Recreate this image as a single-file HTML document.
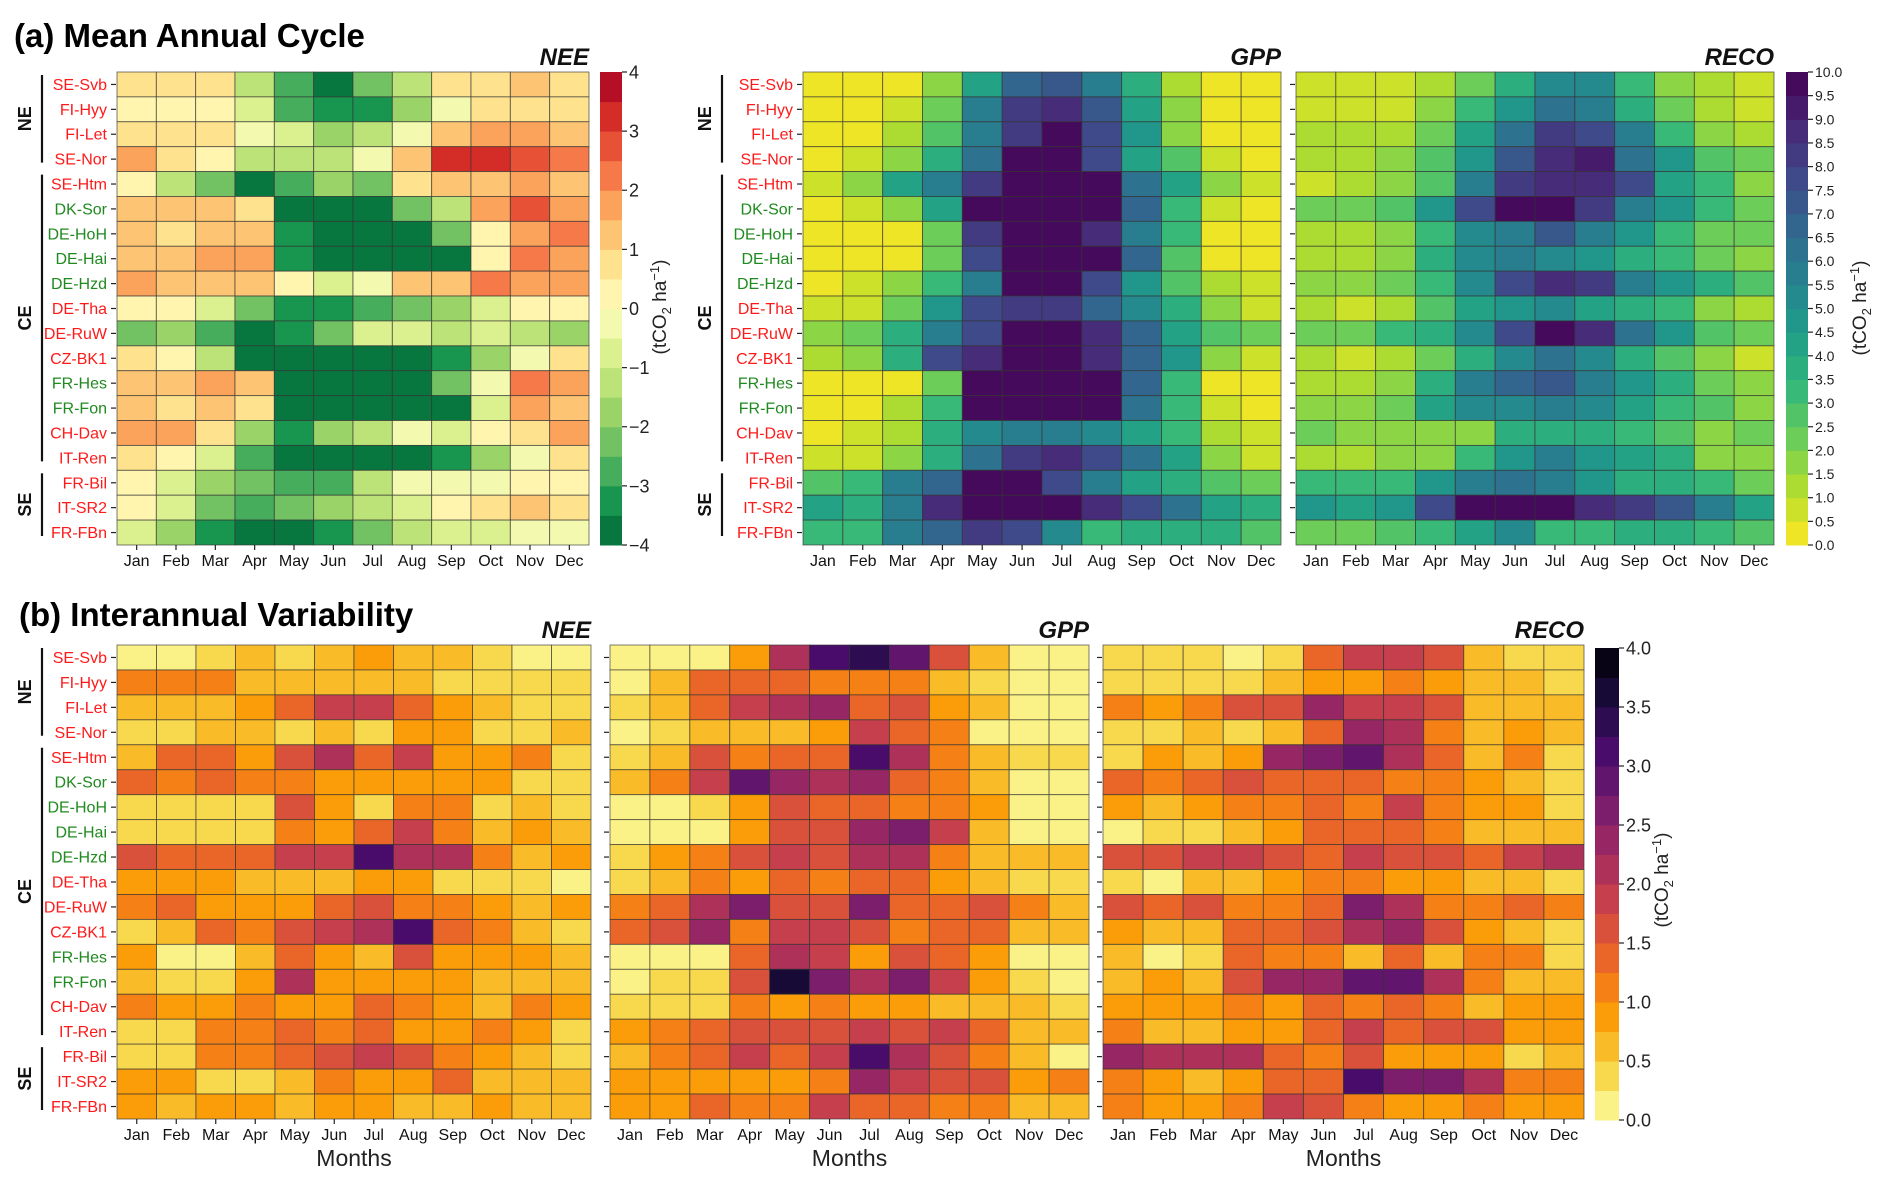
<!DOCTYPE html>
<html><head><meta charset="utf-8"><style>
html,body{margin:0;padding:0;background:#fff;}
svg{display:block;font-family:"Liberation Sans","DejaVu Sans",sans-serif;}
</style></head><body>
<svg id="fig" width="1892" height="1184" viewBox="0 0 1892 1184" xmlns="http://www.w3.org/2000/svg">
<text x="14" y="47" font-size="33" font-weight="bold">(a) Mean Annual Cycle</text>
<text x="19" y="626" font-size="33" font-weight="bold">(b) Interannual Variability</text>
</svg>
<script>
const sites=["SE-Svb","FI-Hyy","FI-Let","SE-Nor","SE-Htm","DK-Sor","DE-HoH","DE-Hai","DE-Hzd","DE-Tha","DE-RuW","CZ-BK1","FR-Hes","FR-Fon","CH-Dav","IT-Ren","FR-Bil","IT-SR2","FR-FBn"];
const siteColors=["r","r","r","r","r","g","g","g","g","r","r","r","g","g","r","r","r","r","r"];
const months=["Jan","Feb","Mar","Apr","May","Jun","Jul","Aug","Sep","Oct","Nov","Dec"];
const groups=["NE","CE","SE"];
const groupStart=[0,4,16];
const groupEnd=[3,15,18];
const ticksNEE=["4","3","2","1","0","\u22121","\u22122","\u22123","\u22124"];
const ticksV=["10.0","9.5","9.0","8.5","8.0","7.5","7.0","6.5","6.0","5.5","5.0","4.5","4.0","3.5","3.0","2.5","2.0","1.5","1.0","0.5","0.0"];
const ticksI=["4.0","3.5","3.0","2.5","2.0","1.5","1.0","0.5","0.0"];

const aNEE=[
[0.7,0.7,0.7,-1.3,-2.8,-3.8,-2.3,-1.3,0.7,0.7,1.2,0.7],
[0.2,0.2,0.2,-0.8,-2.8,-3.2,-3.2,-1.8,-0.3,0.7,0.7,0.7],
[0.7,0.7,0.7,-0.3,-0.8,-1.8,-1.3,-0.3,1.2,1.7,1.7,1.2],
[1.7,0.7,0.2,-1.3,-1.3,-1.3,-0.3,1.2,3.2,3.2,2.7,2.2],
[0.2,-1.3,-2.3,-3.8,-2.8,-1.8,-2.3,0.7,1.2,1.2,1.7,1.2],
[1.2,1.2,1.2,0.7,-3.8,-3.8,-3.8,-2.3,-1.3,1.7,2.7,1.7],
[1.2,0.7,1.2,1.2,-3.2,-3.8,-3.8,-3.8,-2.3,0.2,1.7,2.2],
[1.2,1.2,1.7,1.7,-3.2,-3.8,-3.8,-3.8,-3.8,0.2,2.2,1.7],
[1.7,1.2,1.2,1.2,0.2,-0.8,-0.3,1.2,1.2,2.2,1.7,1.7],
[0.2,0.2,-0.8,-2.3,-3.2,-3.2,-2.8,-2.3,-1.8,-0.8,0.2,0.2],
[-2.3,-1.8,-2.8,-3.8,-3.2,-2.3,-0.8,-0.8,-1.3,-0.8,-1.3,-1.8],
[0.7,0.2,-1.3,-3.8,-3.8,-3.8,-3.8,-3.8,-3.2,-1.8,-0.3,0.7],
[1.2,1.2,1.7,1.2,-3.8,-3.8,-3.8,-3.8,-2.3,-0.3,2.2,1.7],
[1.2,0.7,1.2,0.7,-3.8,-3.8,-3.8,-3.8,-3.8,-0.8,1.7,1.2],
[1.7,1.7,0.7,-1.8,-3.2,-1.8,-1.3,-0.3,-0.8,0.2,0.7,1.7],
[0.7,0.2,-0.8,-2.8,-3.8,-3.8,-3.8,-3.8,-3.2,-1.8,-0.3,0.7],
[0.2,-0.8,-1.8,-2.3,-2.8,-2.8,-1.3,-0.3,-0.3,-0.3,0.2,0.2],
[0.2,-0.8,-2.3,-2.8,-2.3,-1.8,-1.3,-0.8,0.2,0.7,1.2,0.7],
[-0.8,-1.8,-3.2,-3.8,-3.8,-3.2,-2.3,-1.3,-0.8,-0.8,-0.3,-0.3]];
const aGPP=[
[0.2,0.2,0.2,1.7,4.2,6.7,7.2,5.7,3.7,1.2,0.2,0.2],
[0.2,0.2,0.7,2.2,5.7,8.2,8.7,7.2,4.2,1.7,0.2,0.2],
[0.2,0.2,1.2,2.7,5.7,8.2,9.7,7.7,4.7,1.7,0.2,0.2],
[0.2,0.7,1.7,3.7,6.2,9.7,9.7,7.7,4.2,2.7,0.7,0.2],
[0.7,1.7,4.2,5.7,8.2,9.7,9.7,9.7,6.2,4.2,1.7,0.7],
[0.2,0.7,1.7,4.2,9.7,9.7,9.7,9.7,6.7,3.2,0.7,0.2],
[0.2,0.2,0.2,2.2,8.2,9.7,9.7,8.7,5.7,3.2,0.2,0.2],
[0.2,0.2,0.2,2.2,7.7,9.7,9.7,9.7,6.7,2.7,0.2,0.2],
[0.2,0.7,1.7,3.2,5.7,9.7,9.7,7.7,4.7,2.7,1.2,0.7],
[0.7,0.7,2.2,4.7,7.7,8.2,8.2,6.7,5.2,3.7,1.7,0.7],
[1.7,2.2,3.7,5.7,7.7,9.7,9.7,8.7,6.7,4.2,2.7,2.2],
[1.2,1.7,3.7,7.7,8.7,9.7,9.7,8.7,6.7,4.7,1.7,0.7],
[0.2,0.2,0.2,2.2,9.7,9.7,9.7,9.7,6.7,3.2,0.2,0.2],
[0.2,0.2,1.2,3.2,9.7,9.7,9.7,9.7,6.2,3.2,0.7,0.2],
[0.2,0.7,1.2,3.7,5.2,5.7,5.7,5.2,4.2,3.2,1.2,0.7],
[0.7,0.7,1.7,3.7,6.2,8.2,8.7,7.7,6.2,4.2,1.7,0.7],
[2.7,3.2,5.7,6.7,9.7,9.7,7.7,5.7,4.2,3.7,2.7,2.2],
[4.2,3.7,5.7,8.7,9.7,9.7,9.7,8.7,7.7,6.2,4.2,3.7],
[3.2,3.2,5.7,6.7,8.2,7.7,5.2,3.2,3.7,3.7,3.7,2.7]];
const aRECO=[
[0.7,0.7,0.7,1.2,2.2,3.7,5.2,5.2,3.2,1.7,1.2,0.7],
[0.7,0.7,0.7,1.7,3.2,4.7,6.2,5.7,3.7,2.2,1.2,0.7],
[1.2,1.2,1.2,2.2,4.2,6.2,8.2,7.7,5.7,3.2,1.7,1.2],
[1.2,1.2,1.7,2.7,4.7,7.2,8.7,9.2,6.2,4.7,2.7,2.2],
[0.7,1.2,1.7,2.7,5.7,8.2,8.7,8.7,7.7,4.2,3.2,1.7],
[2.2,2.2,2.7,4.7,7.7,9.7,9.7,8.2,5.7,4.7,3.2,2.2],
[1.2,1.2,1.7,3.2,5.2,5.7,7.2,5.7,4.7,3.2,2.2,2.2],
[1.2,1.2,1.7,3.7,5.2,5.7,5.2,4.7,3.7,3.2,2.2,1.7],
[1.7,1.7,2.2,3.2,5.2,7.7,8.7,8.2,5.7,4.7,3.7,2.7],
[1.2,0.7,1.2,2.7,4.2,4.7,5.2,4.2,3.7,3.2,1.7,1.2],
[2.2,2.2,3.2,3.7,5.2,7.7,9.7,8.7,6.2,4.7,2.7,2.2],
[1.2,0.7,1.2,2.2,3.7,5.2,6.2,5.2,3.7,2.7,1.7,0.7],
[1.2,1.2,1.7,3.7,5.7,6.7,7.2,5.7,4.7,3.7,2.2,1.7],
[1.7,1.7,2.2,4.2,5.2,5.2,5.7,5.2,4.2,3.2,2.7,1.7],
[2.2,1.7,1.7,1.7,1.7,3.7,3.7,3.7,3.2,2.7,1.7,2.2],
[1.2,1.2,1.7,1.7,3.2,4.7,5.7,4.7,4.2,3.7,1.7,1.7],
[3.2,3.2,3.2,4.7,5.7,6.2,5.7,4.7,3.7,3.7,3.2,2.2],
[4.7,4.2,4.7,7.7,9.7,9.7,9.7,8.7,8.2,7.2,5.7,4.2],
[2.2,2.2,2.7,3.2,4.2,5.2,3.2,3.2,3.7,3.7,3.2,2.7]];
const bNEE=[
[0.12,0.12,0.37,0.62,0.37,0.62,0.87,0.62,0.62,0.37,0.12,0.12],
[1.12,1.12,1.12,0.62,0.62,0.62,0.62,0.62,0.37,0.37,0.37,0.37],
[0.62,0.62,0.62,0.87,1.37,1.87,1.87,1.37,0.87,0.62,0.37,0.37],
[0.37,0.37,0.62,0.62,0.37,0.62,0.37,0.87,0.87,0.37,0.37,0.62],
[0.62,1.37,1.37,0.87,1.62,2.12,1.37,1.87,0.87,0.87,1.12,0.37],
[1.37,1.12,1.37,1.12,1.12,0.87,0.87,0.87,0.87,0.87,0.37,0.37],
[0.37,0.37,0.37,0.37,1.62,0.87,0.37,1.12,1.12,0.37,0.62,0.37],
[0.37,0.37,0.37,0.37,1.12,0.87,1.37,1.87,1.12,0.62,0.87,0.62],
[1.62,1.37,1.37,1.37,1.87,1.87,3.12,2.12,2.12,1.12,0.62,0.87],
[0.87,0.87,0.87,0.62,0.62,0.62,0.87,0.87,0.37,0.37,0.37,0.12],
[1.12,1.37,0.87,0.87,0.87,1.37,1.62,1.12,1.12,0.87,0.62,0.87],
[0.37,0.62,1.37,1.12,1.62,1.87,2.12,3.12,1.37,1.12,0.62,0.37],
[0.87,0.12,0.12,0.62,1.37,0.87,0.62,1.62,0.87,0.87,0.87,0.62],
[0.62,0.37,0.37,0.87,2.12,0.87,0.87,0.87,0.87,0.62,0.62,0.62],
[1.12,0.87,0.87,1.12,0.87,0.87,1.37,1.12,0.87,0.62,1.12,0.87],
[0.37,0.37,1.12,1.12,1.37,1.12,1.37,0.87,0.87,1.12,0.87,0.37],
[0.37,0.37,1.12,1.12,1.37,1.62,1.87,1.62,1.12,0.87,0.62,0.37],
[0.87,0.87,0.37,0.37,0.62,1.12,0.87,0.87,1.37,0.62,0.62,0.62],
[0.87,0.62,0.87,0.87,0.62,0.87,0.87,0.62,0.62,0.87,0.62,0.62]];
const bGPP=[
[0.12,0.12,0.12,0.87,2.12,3.12,3.37,2.87,1.62,0.62,0.12,0.12],
[0.12,0.62,1.37,1.37,1.37,1.12,1.12,1.12,0.62,0.37,0.12,0.12],
[0.37,0.62,1.37,1.87,2.12,2.37,1.37,1.62,0.87,0.62,0.12,0.12],
[0.12,0.37,0.62,0.62,0.62,0.87,1.87,1.37,1.12,0.12,0.12,0.12],
[0.37,0.62,1.62,1.12,1.37,1.37,3.12,2.12,1.12,0.62,0.37,0.37],
[0.62,1.12,1.87,2.87,2.37,2.12,2.37,1.37,1.12,0.62,0.12,0.12],
[0.12,0.12,0.37,0.87,1.62,1.37,1.37,1.12,1.12,0.87,0.12,0.12],
[0.12,0.12,0.12,0.87,1.62,1.62,2.37,2.62,1.87,0.62,0.12,0.12],
[0.37,0.87,1.12,1.62,1.87,1.62,2.12,2.12,1.12,0.62,0.62,0.62],
[0.37,0.62,1.12,0.87,1.37,1.12,1.37,1.37,0.87,0.62,0.37,0.37],
[1.12,1.37,2.12,2.62,1.62,1.62,2.62,1.37,1.37,1.62,1.12,0.62],
[1.37,1.62,2.37,1.12,1.87,1.87,1.62,1.12,1.37,1.37,0.62,0.62],
[0.12,0.12,0.12,1.37,2.12,1.87,0.87,1.62,1.37,0.87,0.12,0.12],
[0.12,0.37,0.37,1.62,3.62,2.62,2.12,2.62,1.87,0.87,0.37,0.12],
[0.37,0.37,0.37,1.12,0.87,1.12,0.87,0.87,0.62,0.62,0.62,0.37],
[0.87,1.12,1.37,1.62,1.62,1.62,1.87,1.62,1.87,1.37,0.62,0.62],
[0.62,1.12,1.37,1.87,1.37,1.87,3.12,2.12,1.62,1.12,0.62,0.12],
[0.87,0.87,0.87,0.87,0.87,1.12,2.37,1.87,1.62,1.62,0.87,1.12],
[0.87,0.87,1.37,1.12,1.12,1.87,1.37,1.37,1.12,1.12,0.62,0.62]];
const bRECO=[
[0.37,0.37,0.37,0.12,0.37,1.37,1.87,1.87,1.62,0.62,0.37,0.37],
[0.37,0.37,0.37,0.37,0.62,0.87,0.87,1.12,0.87,0.62,0.62,0.37],
[1.12,0.87,1.12,1.62,1.62,2.37,1.87,1.87,1.62,0.62,0.62,0.62],
[0.37,0.37,0.62,0.37,0.62,1.37,2.37,2.12,1.12,0.62,0.87,0.62],
[0.37,0.87,0.62,0.87,2.37,2.62,2.87,2.12,1.37,0.62,1.12,0.37],
[1.37,1.12,1.37,1.62,1.37,1.37,1.37,1.12,1.12,0.87,0.62,0.37],
[0.87,0.62,0.87,1.12,1.12,1.37,1.12,1.87,1.12,0.87,0.87,0.37],
[0.12,0.37,0.37,0.62,0.87,1.37,1.37,1.37,1.12,0.62,0.62,0.62],
[1.62,1.62,1.87,1.87,1.62,1.37,1.87,1.62,1.62,1.37,1.87,2.12],
[0.37,0.12,0.62,0.62,0.87,1.12,1.12,0.87,0.87,0.62,0.62,0.37],
[1.62,1.37,1.62,1.12,1.12,1.37,2.62,2.12,1.12,1.12,1.37,1.12],
[0.87,0.62,0.62,1.37,1.37,1.62,2.12,2.37,1.62,0.87,0.62,0.37],
[0.62,0.12,0.37,1.37,1.12,1.12,0.62,1.37,0.62,1.12,1.12,0.37],
[0.62,0.87,0.62,1.62,2.37,2.37,2.87,2.87,2.12,1.12,0.62,0.62],
[0.87,0.87,0.87,1.12,0.87,1.37,1.12,1.37,1.12,0.62,0.87,0.87],
[1.12,0.62,0.62,0.87,0.87,1.37,1.87,1.37,1.62,1.62,0.87,0.87],
[2.37,2.12,2.12,2.12,1.37,1.12,1.62,0.87,0.87,0.87,0.37,0.62],
[1.12,0.87,0.62,0.87,1.37,1.37,3.12,2.62,2.62,2.12,1.12,1.12],
[1.12,0.87,0.87,1.12,1.87,1.62,1.12,0.87,0.87,1.12,0.87,0.87]];

const NS="http://www.w3.org/2000/svg";
const svg=document.getElementById('fig');
function mk(tag,attrs,parent){const e=document.createElementNS(NS,tag);for(const k in attrs)e.setAttribute(k,attrs[k]);(parent||svg).appendChild(e);return e;}
function hex(h){return [parseInt(h.substr(1,2),16),parseInt(h.substr(3,2),16),parseInt(h.substr(5,2),16)];}
function interp(stops,t){t=Math.max(0,Math.min(1,t));const n=stops.length-1;const i=Math.min(n-1,Math.floor(t*n));const f=t*n-i;const a=hex(stops[i]),b=hex(stops[i+1]);return 'rgb('+a.map((v,k)=>Math.round(v+(b[k]-v)*f)).join(',')+')';}
const rdylgn_r=["#006837","#1a9850","#66bd63","#a6d96a","#d9ef8b","#ffffbf","#fee08b","#fdae61","#f46d43","#d73027","#a50026"];
const viridis_r=["#fde725","#b5de2b","#6ece58","#35b779","#1f9e89","#26828e","#31688e","#3e4989","#482878","#440154"];
const inferno_r=["#fcffa4","#f7d13d","#fb9b06","#ed6925","#cf4446","#a52c60","#781c6d","#4a0c6b","#1b0c41","#000004"];
function cmap(stops,vmin,vmax,nlev){return v=>{let t=(v-vmin)/(vmax-vmin);let l=Math.min(nlev-1,Math.max(0,Math.floor(t*nlev)));return interp(stops,(l+0.5)/nlev);};}
const cNEE=cmap(rdylgn_r,-4,4,16), cV=cmap(viridis_r,0,10,20), cI=cmap(inferno_r,0,4,16);

function heatmap(name,data,x0,x1,y0,y1,col,opts){
  const g=mk('g',{});
  
  
  const cw=(x1-x0)/12,ch=(y1-y0)/19;
  const xs=j=>x0+j*cw, ys=i=>y0+i*ch;
  data.forEach((row,i)=>row.forEach((v,j)=>{
    const r=mk('rect',{x:xs(j),y:ys(i),width:cw,height:ch,fill:col(v),stroke:'#333','stroke-opacity':0.7,'stroke-width':0.9},g);
    
    
  }));
  months.forEach((m,j)=>{
    const cx=xs(j)+cw/2;
    mk('line',{x1:cx,x2:cx,y1:y1,y2:y1+5,stroke:'#222','stroke-width':1.2},g);
    const t=mk('text',{x:cx,y:y1+21,'font-size':16,'text-anchor':'middle',fill:'#111'},g);t.textContent=m;
    
    
  });
  sites.forEach((s,i)=>{
    const cy=ys(i)+ch/2;
    mk('line',{x1:x0-6,x2:x0-1,y1:cy,y2:cy,stroke:'#222','stroke-width':1.2},g);
    if(opts.labels){
      const t=mk('text',{x:x0-10,y:cy+5.5,'font-size':16,'text-anchor':'end',fill:siteColors[i]=='r'?'#ff1a1a':'#1f8a1f'},g);t.textContent=s;
      
      
    }
  });
  if(opts.labels){
    groups.forEach((gname,k)=>{
      const ya=ys(groupStart[k])+3, yb=ys(groupEnd[k]+1)-9;
      mk('line',{x1:opts.gx+11,x2:opts.gx+11,y1:ya,y2:yb,stroke:'#111','stroke-width':2.2},g);
      const cy=(ya+yb)/2;
      const t=mk('text',{x:opts.gx,y:cy,'font-size':18,'font-weight':'bold','text-anchor':'middle',transform:'rotate(-90 '+opts.gx+' '+cy+')',fill:'#111'},g);t.textContent=gname;
      
      
    });
  }
  const tt=mk('text',{x:x1,y:y0-7,'font-size':24,'font-weight':'bold','font-style':'italic','text-anchor':'end',fill:'#111'},g);tt.textContent=opts.title;
  
  
  if(opts.months){
    const mt=mk('text',{x:(x0+x1)/2,y:y1+47,'font-size':23,'text-anchor':'middle',fill:'#222'},g);mt.textContent='Months';
    
    
  }
}
function colorbar(name,x0,x1,y0,y1,col,vmin,vmax,nlev,ticks,fs,lx,lcy){
  const g=mk('g',{});
  
  
  const h=(y1-y0)/nlev;
  for(let l=0;l<nlev;l++){const v=vmin+(l+0.5)*(vmax-vmin)/nlev;mk('rect',{x:x0,y:y1-(l+1)*h,width:x1-x0,height:h+0.5,fill:col(v)},g);}
  ticks.forEach((tk,k)=>{const y=y0+k*(y1-y0)/(ticks.length-1);
    mk('line',{x1:x1,x2:x1+5,y1:y,y2:y,stroke:'#222','stroke-width':1.2},g);
    const t=mk('text',{x:x1+7,y:y+fs*0.36,'font-size':fs,fill:'#222'},g);t.textContent=tk;
    
    });
  const t=mk('text',{x:lx,y:lcy,'font-size':19,'text-anchor':'middle',fill:'#222',transform:'rotate(-90 '+lx+' '+lcy+')'},g);
  t.innerHTML='(tCO<tspan font-size="13" dy="5">2</tspan><tspan dy="-5"> ha</tspan><tspan font-size="13" dy="-7">\u22121</tspan><tspan dy="7">)</tspan>';
  
  
}
heatmap('heatmap-a-nee',aNEE,117,589,72,545,cNEE,{labels:true,gx:31,title:'NEE'});
heatmap('heatmap-a-gpp',aGPP,803,1281,72,545,cV,{labels:true,gx:711,title:'GPP'});
heatmap('heatmap-a-reco',aRECO,1296,1774,72,545,cV,{labels:false,title:'RECO'});
heatmap('heatmap-b-nee',bNEE,117,591,645,1119,cI,{labels:true,gx:31,title:'NEE',months:true});
heatmap('heatmap-b-gpp',bGPP,610,1089,645,1119,cI,{labels:false,title:'GPP',months:true});
heatmap('heatmap-b-reco',bRECO,1103,1584,645,1119,cI,{labels:false,title:'RECO',months:true});
colorbar('colorbar-a-nee',600,622,72,545,cNEE,-4,4,16,ticksNEE,18,666,307);
colorbar('colorbar-a-viridis',1786,1808,72,545,cV,0,10,20,ticksV,14,1866,308);
colorbar('colorbar-b-inferno',1595,1619,648,1120,cI,0,4,16,ticksI,18,1668,880);
</script>
</body></html>
